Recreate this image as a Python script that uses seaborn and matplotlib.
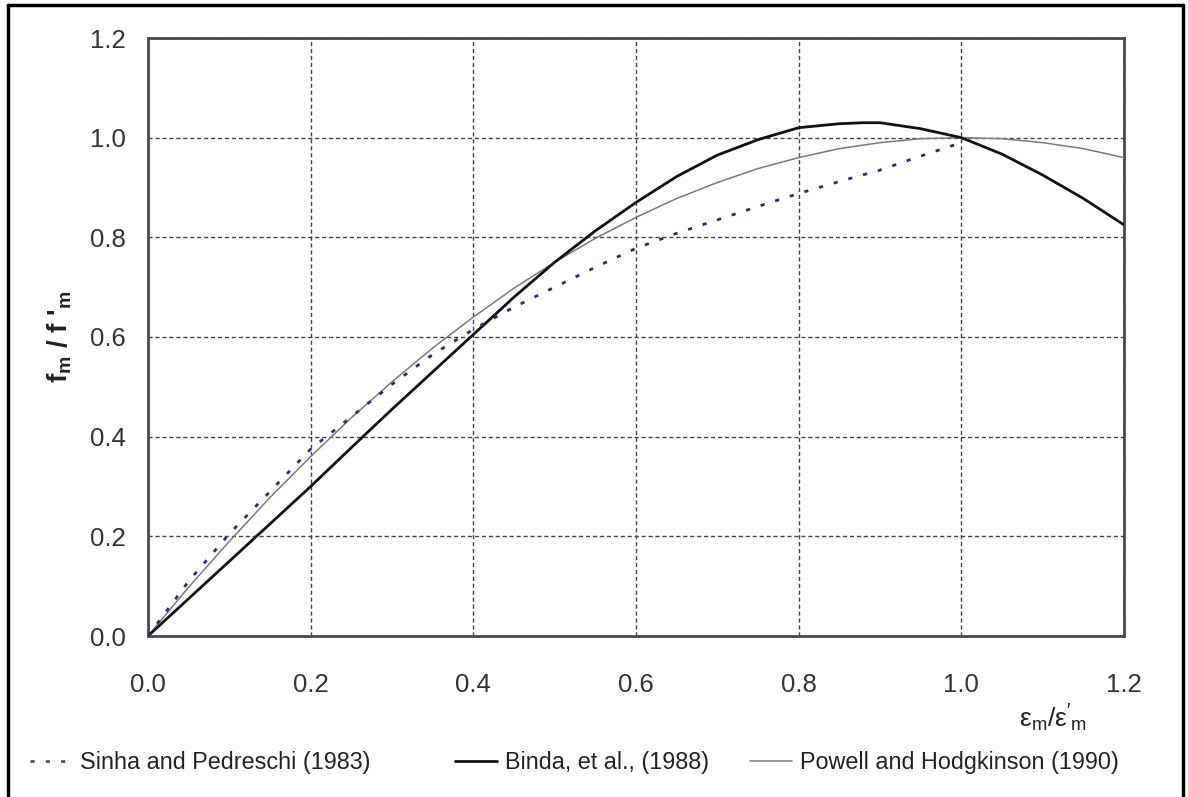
import numpy as np
import pandas as pd
import matplotlib
matplotlib.use("Agg")
import matplotlib.pyplot as plt
import seaborn as sns
from matplotlib.lines import Line2D

# ---- data ----
sinha_x = [0.0, 0.05, 0.10, 0.15, 0.20, 0.25, 0.30, 0.35, 0.40, 0.45, 0.50, 0.55, 0.60,
           0.65, 0.70, 0.75, 0.80, 0.85, 0.90, 0.95, 1.00]
sinha_y = [0.0, 0.11, 0.205, 0.29, 0.375, 0.44, 0.505, 0.565, 0.615, 0.66, 0.70, 0.74, 0.778,
           0.808, 0.835, 0.862, 0.888, 0.912, 0.935, 0.963, 0.99]

binda_x = [0.0, 0.05, 0.10, 0.15, 0.20, 0.25, 0.30, 0.35, 0.40, 0.45, 0.50, 0.55, 0.60,
           0.65, 0.70, 0.75, 0.80, 0.85, 0.88, 0.90, 0.95, 1.00, 1.05, 1.10, 1.15, 1.20]
binda_y = [0.0, 0.075, 0.15, 0.225, 0.30, 0.378, 0.455, 0.53, 0.605, 0.68, 0.75, 0.813, 0.87,
           0.922, 0.965, 0.996, 1.02, 1.028, 1.03, 1.03, 1.018, 1.00, 0.967, 0.925, 0.878, 0.825]

powell_x = [0.0, 0.05, 0.10, 0.15, 0.20, 0.25, 0.30, 0.35, 0.40, 0.45, 0.50, 0.55, 0.60,
            0.65, 0.70, 0.75, 0.80, 0.85, 0.90, 0.95, 1.00, 1.05, 1.10, 1.15, 1.20]
powell_y = [0.0, 0.098, 0.19, 0.278, 0.36, 0.438, 0.51, 0.578, 0.64, 0.698, 0.75, 0.798, 0.84,
            0.878, 0.91, 0.938, 0.96, 0.978, 0.99, 0.998, 1.00, 0.998, 0.99, 0.978, 0.96]

labels = ["Sinha and Pedreschi (1983)", "Binda, et al., (1988)", "Powell and Hodgkinson (1990)"]
ticks = [0.0, 0.2, 0.4, 0.6, 0.8, 1.0, 1.2]

sns.set_theme(style="white")
plt.rcParams["font.family"] = ["Liberation Sans", "DejaVu Sans"]
plt.rcParams["mathtext.default"] = "regular"

W, H = 1188, 797
fig = plt.figure(figsize=(W / 100, H / 100), dpi=100)
fig.patch.set_facecolor("white")

L, R, T, B = 148, 1124, 38, 636
ax = fig.add_axes([L / W, 1 - B / H, (R - L) / W, (B - T) / H])
ax.set_facecolor("white")

df_s = pd.DataFrame({"x": sinha_x, "y": sinha_y})
df_b = pd.DataFrame({"x": binda_x, "y": binda_y})
df_p = pd.DataFrame({"x": powell_x, "y": powell_y})

sns.lineplot(data=df_p, x="x", y="y", ax=ax, color="#7a7a7a", lw=1.1, sort=False, zorder=3)
sns.lineplot(data=df_b, x="x", y="y", ax=ax, color="#111111", lw=2.0, sort=False, zorder=4)
sns.lineplot(data=df_s, x="x", y="y", ax=ax, color="#2b2b7a", lw=2.0, sort=False, zorder=5,
             linestyle=(0, (1.5, 4)))

ax.set_xlim(0, 1.2)
ax.set_ylim(0, 1.2)
ax.set_xticks(ticks)
ax.set_yticks(ticks)
ax.set_xticklabels([f"{t:.1f}" for t in ticks])
ax.set_yticklabels([f"{t:.1f}" for t in ticks])
ax.set_xlabel("")
ax.set_ylabel("")

ax.grid(True, color="#444444", lw=1.0, linestyle=(0, (3, 2)), zorder=1)
ax.set_axisbelow(True)
for sp in ax.spines.values():
    sp.set_visible(True)
    sp.set_color("#4a4a4a")
    sp.set_linewidth(2.0)

ax.tick_params(axis="both", which="major", direction="out", length=5, width=1.4,
               color="#888888", labelsize=18.5, labelcolor="#333333")
ax.tick_params(axis="x", pad=22)
ax.tick_params(axis="y", pad=11)

# axis labels
fig.text(1087 / W, 1 - 718 / H, r"$\varepsilon_m/\varepsilon'_m$", ha="right", va="center",
         fontsize=19, color="#222222")
fig.text(60 / W, 1 - 337 / H, r"f$_m$ / f '$_m$", rotation=90, ha="center", va="center",
         fontsize=20, fontweight="bold", color="#222222")

# legend entries laid out as in the reference
handles = [Line2D([], [], color="#555555", lw=2.0, linestyle=(0, (1.5, 4))),
           Line2D([], [], color="#111111", lw=2.0),
           Line2D([], [], color="#7a7a7a", lw=1.1)]
starts = [30, 455, 750]
for h, lab, xs in zip(handles, labels, starts):
    fig.legend([h], [lab], loc="center left", bbox_to_anchor=(xs / W, 1 - 763 / H),
               frameon=False, fontsize=16.8, handlelength=1.8, handletextpad=0.35,
               borderpad=0, borderaxespad=0, labelcolor="#222222")

# outer frame
for xs, ys in [([8, 1183], [5, 5]), ([1183, 1183], [5, 797]), ([8, 8], [5, 797])]:
    fig.add_artist(Line2D([x / W for x in xs], [1 - y / H for y in ys], color="black",
                          lw=2.5, transform=fig.transFigure))

fig.savefig("out.png", dpi=100, facecolor="white")
